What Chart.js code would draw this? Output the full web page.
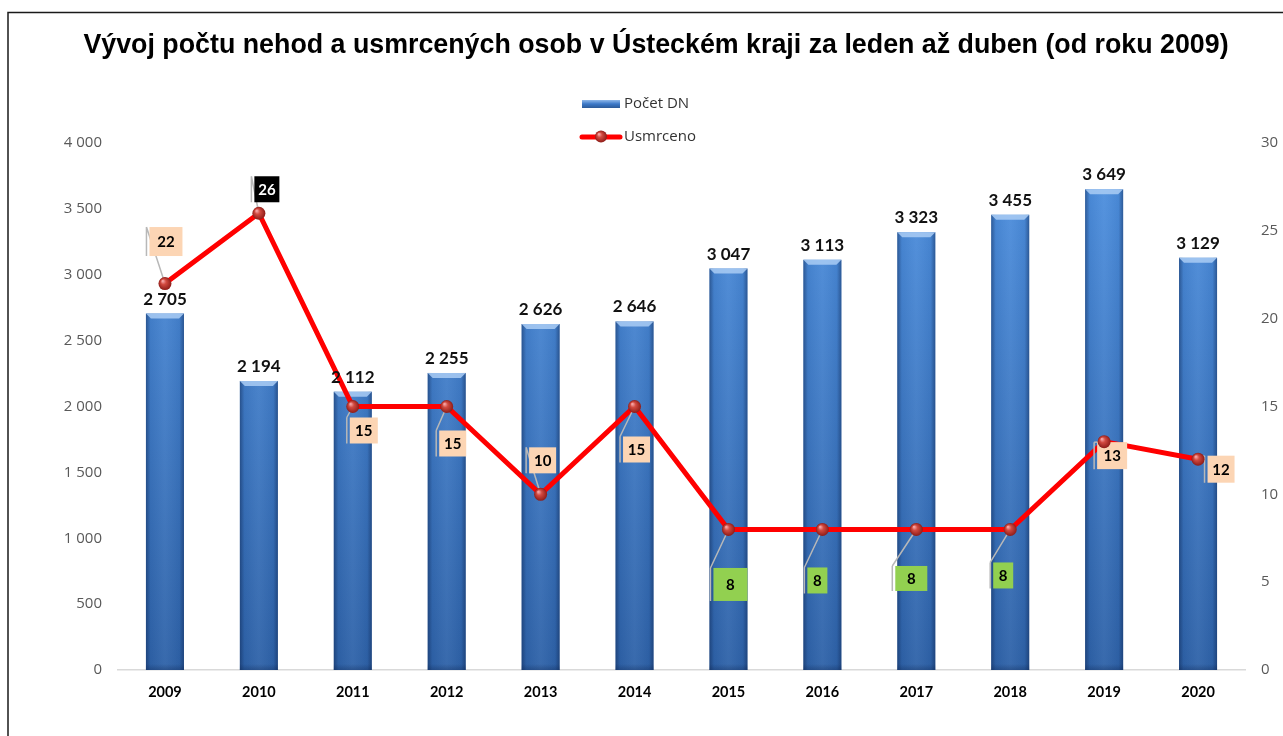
<!DOCTYPE html>
<html><head><meta charset="utf-8">
<script src="https://cdn.jsdelivr.net/npm/chart.js@4/dist/chart.umd.min.js"></script>
<style>html,body{margin:0;padding:0;background:#fff;overflow:hidden}#wrap{width:1283px;height:736px;position:relative}</style>
</head><body><div id="wrap"><canvas id="c" width="1283" height="736"></canvas></div>
<script>
// ---- data ----
const titleText = 'Vývoj počtu nehod a usmrcených osob v Ústeckém kraji za leden až duben (od roku 2009)';
const years = ['2009','2010','2011','2012','2013','2014','2015','2016','2017','2018','2019','2020'];
const accidents = [2705, 2194, 2112, 2255, 2626, 2646, 3047, 3113, 3323, 3455, 3649, 3129];
const deaths = [22, 26, 15, 15, 10, 15, 8, 8, 8, 8, 13, 12];
const seriesNames = ['Počet DN', 'Usmrceno'];
const leftTicks = [0, 500, 1000, 1500, 2000, 2500, 3000, 3500, 4000];
const rightTicks = [0, 5, 10, 15, 20, 25, 30];

// ---- label box styles (offset from point, box size, colours) ----
const PEACH = '#fcd5b4', GREEN = '#92d050';
const deathLabelStyle = [
  {dx: 1,  dy: -42, w: 33, h: 29, bg: PEACH, fg: '#000'},
  {dx: 8,  dy: -24, w: 25, h: 26, bg: '#000', fg: '#fff'},
  {dx: 11, dy: 24,  w: 28, h: 26, bg: PEACH, fg: '#000'},
  {dx: 6,  dy: 37,  w: 27, h: 26, bg: PEACH, fg: '#000'},
  {dx: 2,  dy: -34, w: 27, h: 26, bg: PEACH, fg: '#000'},
  {dx: 2,  dy: 43,  w: 27, h: 26, bg: PEACH, fg: '#000'},
  {dx: 2,  dy: 55,  w: 34, h: 33, bg: GREEN, fg: '#000'},
  {dx: -5, dy: 51,  w: 20, h: 26, bg: GREEN, fg: '#000'},
  {dx: -5, dy: 49,  w: 32, h: 25, bg: GREEN, fg: '#000'},
  {dx: -7, dy: 46,  w: 20, h: 26, bg: GREEN, fg: '#000'},
  {dx: 8,  dy: 14,  w: 30, h: 27, bg: PEACH, fg: '#000'},
  {dx: 23, dy: 10,  w: 27, h: 27, bg: PEACH, fg: '#000'}
];

const fmt = n => String(n).replace(/\B(?=(\d{3})+(?!\d))/g, ' ');
const FONT = 'Lato, "Open Sans", sans-serif';
const TICKFONT = '"Open Sans", Lato, sans-serif';

function sphere(c, x, y, r) {
  const g = c.createRadialGradient(x - r*0.35, y - r*0.4, r*0.1, x, y, r);
  g.addColorStop(0, '#f4a0a0');
  g.addColorStop(0.35, '#d24a40');
  g.addColorStop(1, '#8e1c18');
  c.beginPath(); c.arc(x, y, r, 0, Math.PI*2); c.fillStyle = g; c.fill();
}

const decor = {
  id: 'decor',
  beforeDraw(chart) {
    const c = chart.ctx;
    c.save();
    c.fillStyle = '#fff'; c.fillRect(0, 0, chart.width, chart.height);
    c.strokeStyle = '#1a1a1a'; c.lineWidth = 1.5;
    c.beginPath(); c.moveTo(8, chart.height); c.lineTo(8, 12.5); c.lineTo(chart.width, 12.5); c.stroke();
    // title
    c.fillStyle = '#000'; c.font = 'bold 26.8px "Liberation Sans", Arial, sans-serif';
    c.textAlign = 'center'; c.textBaseline = 'middle';
    c.fillText(titleText, 656, 46);
    c.restore();
  },
  afterDatasetDraw(chart, args) {
    if (args.index !== 0) return;
    const c = chart.ctx;
    const meta = chart.getDatasetMeta(0);
    c.save();
    meta.data.forEach(b => {
      const l = b.x - b.width/2, r = b.x + b.width/2, t = b.y, bot = b.base;
      const g = c.createLinearGradient(l, 0, r, 0);
      g.addColorStop(0, 'rgba(10,30,70,0.45)');
      g.addColorStop(0.12, 'rgba(10,30,70,0.06)');
      g.addColorStop(0.5, 'rgba(255,255,255,0.05)');
      g.addColorStop(0.88, 'rgba(10,30,70,0.06)');
      g.addColorStop(1, 'rgba(10,30,70,0.45)');
      c.fillStyle = g; c.fillRect(l, t, r - l, bot - t);
      c.beginPath(); c.moveTo(l, t); c.lineTo(r, t); c.lineTo(r - 5, t + 5); c.lineTo(l + 5, t + 5); c.closePath();
      c.fillStyle = 'rgba(170,205,245,0.85)'; c.fill();
      const gb = c.createLinearGradient(0, bot - 6, 0, bot);
      gb.addColorStop(0, 'rgba(10,30,70,0)'); gb.addColorStop(1, 'rgba(10,30,70,0.3)');
      c.fillStyle = gb; c.fillRect(l, bot - 6, r - l, 6);
    });
    c.restore();
  },
  afterDatasetsDraw(chart) {
    const c = chart.ctx;
    c.save();
    const bm = chart.getDatasetMeta(0);
    c.font = 'bold 17px ' + FONT; c.fillStyle = '#111'; c.textAlign = 'center'; c.textBaseline = 'bottom';
    bm.data.forEach((b, i) => { c.fillText(fmt(accidents[i]), b.x, b.y - 6); });
    const lm = chart.getDatasetMeta(1);
    lm.data.forEach((p, i) => {
      const s = deathLabelStyle[i];
      const cx = p.x + s.dx, cy = p.y + s.dy;
      const bl = cx - s.w/2, bt = cy - s.h/2, bb = cy + s.h/2;
      c.strokeStyle = '#b8b8b8'; c.lineWidth = 1.5;
      c.beginPath();
      const lx = bl - 3;
      c.moveTo(p.x, p.y); c.lineTo(lx, bt);
      c.moveTo(lx, bt); c.lineTo(lx, bb);
      c.stroke();
      c.fillStyle = s.bg; c.fillRect(bl, bt, s.w, s.h);
      c.fillStyle = s.fg; c.font = 'bold 15px ' + FONT; c.textAlign = 'center'; c.textBaseline = 'middle';
      c.fillText(String(deaths[i]), cx, cy + 1);
    });
    lm.data.forEach(p => sphere(c, p.x, p.y, 6.5));
    c.restore();
  },
  afterDraw(chart) {
    const c = chart.ctx;
    c.save();
    const g = c.createLinearGradient(0, 100, 0, 108);
    g.addColorStop(0, '#8fb8ea'); g.addColorStop(0.5, '#3b78c8'); g.addColorStop(1, '#2c5a98');
    c.fillStyle = g; c.fillRect(582, 100, 38, 8);
    c.strokeStyle = '#ff0000'; c.lineWidth = 5; c.lineCap = 'round';
    c.beginPath(); c.moveTo(582, 137); c.lineTo(620, 137); c.stroke();
    sphere(c, 601, 136.5, 6);
    c.fillStyle = '#333'; c.font = '15px ' + TICKFONT; c.textAlign = 'left'; c.textBaseline = 'middle';
    c.fillText(seriesNames[0], 624, 104);
    c.fillText(seriesNames[1], 624, 137);
    c.restore();
  }
};

new Chart(document.getElementById('c'), {
  data: {
    labels: years,
    datasets: [
      {
        type: 'bar', label: seriesNames[0], data: accidents, yAxisID: 'y', order: 2,
        backgroundColor: ctx => {
          const ch = ctx.chart, a = ch.chartArea;
          if (!a) return '#3a75c4';
          const g = ch.ctx.createLinearGradient(0, a.top, 0, a.bottom);
          g.addColorStop(0, '#4f92e2'); g.addColorStop(1, '#2e62a8');
          return g;
        },
        categoryPercentage: 1, barPercentage: 0.405, borderWidth: 0
      },
      {
        type: 'line', label: seriesNames[1], data: deaths, yAxisID: 'y1', order: 1,
        borderColor: '#ff0000', borderWidth: 5, pointRadius: 0, tension: 0, fill: false
      }
    ]
  },
  options: {
    responsive: false, animation: false,
    layout: {padding: {left: 0, right: 0, top: 143, bottom: 0}},
    plugins: {
      legend: {display: false}, tooltip: {enabled: false}, title: {display: false}
    },
    scales: {
      x: {
        grid: {display: false, drawTicks: false},
        border: {display: true, color: '#d9d9d9', width: 1.5},
        ticks: {color: '#000', font: {family: FONT, size: 14.5, weight: 'bold'}, padding: 14},
        afterFit: s => { s.height = 66; }
      },
      y: {
        position: 'left', min: 0, max: 4000,
        grid: {display: false, drawTicks: false}, border: {display: false},
        ticks: {color: '#595959', font: {family: TICKFONT, size: 15}, padding: 16, callback: v => fmt(v)},
        afterBuildTicks: s => { s.ticks = leftTicks.map(v => ({value: v})); },
        afterFit: s => { s.width = 118; }
      },
      y1: {
        position: 'right', min: 0, max: 30,
        grid: {display: false, drawTicks: false}, border: {display: false},
        ticks: {color: '#595959', font: {family: TICKFONT, size: 15}, padding: 16},
        afterBuildTicks: s => { s.ticks = rightTicks.map(v => ({value: v})); },
        afterFit: s => { s.width = 38; }
      }
    }
  },
  plugins: [decor]
});
</script></body></html>
